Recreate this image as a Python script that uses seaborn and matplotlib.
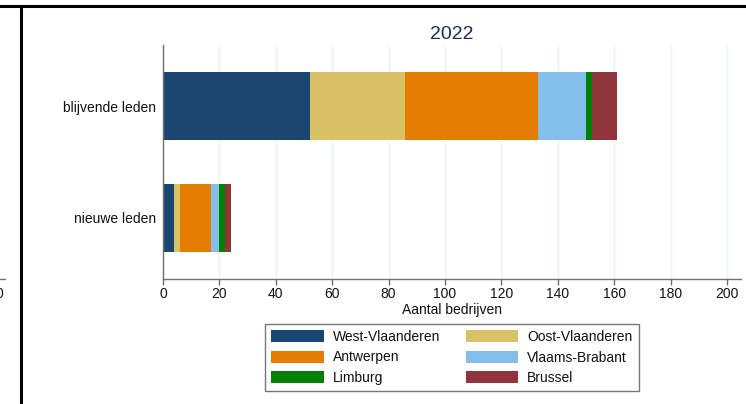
import pandas as pd
import seaborn as sns
import matplotlib.pyplot as plt
from matplotlib.lines import Line2D
from matplotlib.patches import Patch

# data
groups = ['blijvende leden', 'nieuwe leden']
regions = ['West-Vlaanderen', 'Oost-Vlaanderen', 'Antwerpen',
           'Vlaams-Brabant', 'Limburg', 'Brussel']
blijvend = [52, 34, 47, 17, 2, 9]
nieuw = [4, 2, 11, 3, 2, 2]
colors = ['#1a476f', '#d9c266', '#e37e00', '#83bfea', '#008000', '#90353b']
xticks = [0, 20, 40, 60, 80, 100, 120, 140, 160, 180, 200]

sns.set_theme(style='white')
plt.rcParams['font.family'] = ['Liberation Sans', 'DejaVu Sans']

df = pd.DataFrame({'groep': groups * len(regions),
                   'regio': [r for r in regions for _ in groups],
                   'aantal': [v for pair in zip(blijvend, nieuw) for v in pair]})
df['cum'] = df.groupby('groep')['aantal'].cumsum()

fig = plt.figure(figsize=(7.46, 4.04), dpi=100)
ax = fig.add_axes([163 / 746, 1 - 279 / 404, (741 - 163) / 746, (279 - 45) / 404])

# stacked bars: draw cumulative totals from the largest down
for regio, kleur in reversed(list(zip(regions, colors))):
    sub = df[df['regio'] == regio]
    sns.barplot(data=sub, x='cum', y='groep', order=groups, orient='h',
                color=kleur, width=0.6, linewidth=0, saturation=1, ax=ax)

ax.set_xlim(0, 205)
ax.set_ylim(1.545, -0.545)
ax.set_xticks(xticks)
ax.set_xticklabels([str(t) for t in xticks])
ax.xaxis.grid(True, color='#eaf2f3', linewidth=1)
ax.set_axisbelow(True)
for s in ['top', 'right']:
    ax.spines[s].set_visible(False)
for s in ['left', 'bottom']:
    ax.spines[s].set_color('#707070')
    ax.spines[s].set_linewidth(1)
ax.tick_params(axis='x', length=4, width=1, color='#707070', pad=2,
               labelsize=10, labelcolor='#111111', bottom=True)
ax.tick_params(axis='y', length=0, pad=5, labelsize=10, labelcolor='#111111')
ax.set_ylabel('')
ax.set_xlabel('Aantal bedrijven', fontsize=10, color='#111111', labelpad=1)
ax.set_title('2022', fontsize=14, color='#1e2d53', pad=4)

# legend is filled row by row: reorder for matplotlib's column-wise filling
order = [0, 2, 4, 1, 3, 5]
handles = [Patch(facecolor=colors[i], edgecolor='none') for i in order]
labels = [regions[i] for i in order]
leg = fig.legend(handles, labels, ncol=2, loc='upper center',
                 bbox_to_anchor=(452 / 746, 1 - 324 / 404), fontsize=10,
                 frameon=True, fancybox=False, handlelength=3.8,
                 handleheight=0.95, handletextpad=0.65, columnspacing=1.8,
                 labelspacing=0.45, borderpad=0.45, borderaxespad=0)
leg.get_frame().set_edgecolor('#555555')
leg.get_frame().set_linewidth(1)
for t in leg.get_texts():
    t.set_color('#111111')

# bits of the neighbouring panel that are visible in the crop
fig.add_artist(Line2D([0, 1], [1 - 5.5 / 404] * 2, color='black', linewidth=2.2,
                      transform=fig.transFigure))
fig.add_artist(Line2D([20.5 / 746] * 2, [0, 1 - 5.5 / 404], color='black',
                      linewidth=2.2, transform=fig.transFigure))
fig.add_artist(Line2D([0, 5 / 746], [1 - 279 / 404] * 2, color='#707070',
                      linewidth=1, transform=fig.transFigure))
fig.text(-1 / 746, 1 - 294 / 404, '0', fontsize=10, color='#111111',
         ha='center', va='center')

fig.savefig('out.png', dpi=100)
